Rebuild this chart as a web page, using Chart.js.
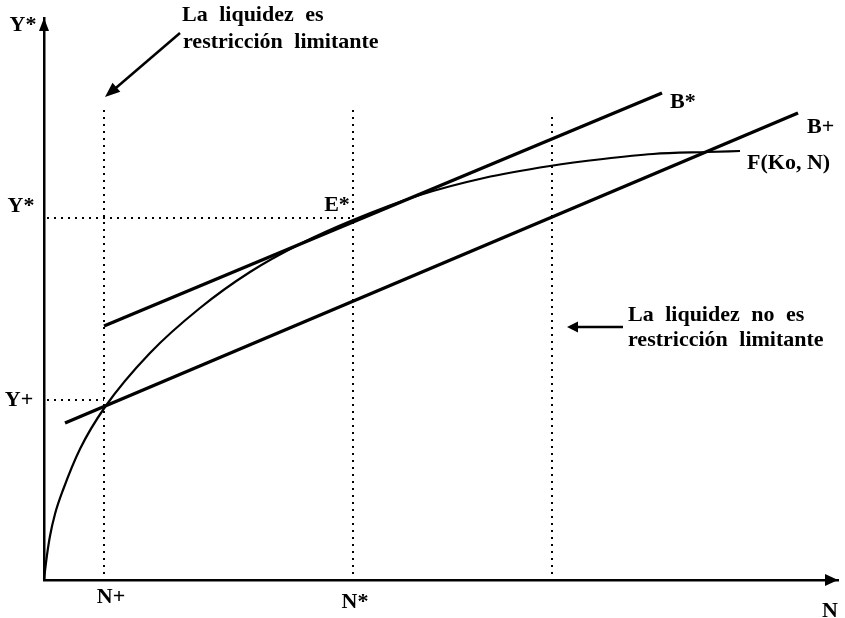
<!DOCTYPE html>
<html>
<head>
<meta charset="utf-8">
<script src="https://cdn.jsdelivr.net/npm/chart.js@4.4.1/dist/chart.umd.min.js"></script>
<style>
  body { margin: 0; background: #fff; }
</style>
</head>
<body>
<canvas id="liquidez-chart" width="845" height="618"></canvas>
<script>
// F(Ko, N)
const curveN = [0, 1, 3, 6, 11, 19, 36, 61, 106, 156, 206, 256, 309, 376, 440, 506, 559, 609, 663, 696];
const curveY = [0, 9, 25, 44, 66, 90, 131, 173, 227, 272, 308, 336, 360, 385, 402, 414, 421, 426, 428, 429];

// rectas B* y B+
const bStarN = [60, 618];
const bStarY = [254, 487];
const bPlusN = [21, 754];
const bPlusY = [157, 467];

// niveles marcados: N+, N*, y la tercera vertical
const guideN = [60, 309, 508];
const guideTop = [470, 472, 468];
// Y+ y Y*
const guideY = [180, 362];

const axisMaxN = 794;
const axisMaxY = 562;

const toPoints = (xs, ys) => xs.map((x, i) => ({ x: x, y: ys[i] }));

const solid = (label, pts, width) => ({
  label: label,
  data: pts,
  borderColor: "#000",
  borderWidth: width,
  pointRadius: 0,
  fill: false,
});

const dotted = (label, pts) => ({
  label: label,
  data: pts,
  borderColor: "#000",
  borderWidth: 2,
  borderDash: [2, 5],
  pointRadius: 0,
  fill: false,
});

const datasets = [
  Object.assign(solid("F(Ko, N)", toPoints(curveN, curveY), 2.2), {
    cubicInterpolationMode: "monotone",
  }),
  solid("B*", toPoints(bStarN, bStarY), 3.4),
  solid("B+", toPoints(bPlusN, bPlusY), 3.4),
];

guideN.forEach((n, i) => {
  datasets.push(dotted("vN" + i, [{ x: n, y: 6 }, { x: n, y: guideTop[i] }]));
});
datasets.push(dotted("Y+", [{ x: 3, y: guideY[0] }, { x: guideN[0], y: guideY[0] }]));
datasets.push(dotted("Y*", [{ x: 3, y: guideY[1] }, { x: guideN[1], y: guideY[1] }]));

function arrowHead(ctx, x, y, angle, len, half) {
  ctx.save();
  ctx.translate(x, y);
  ctx.rotate(angle);
  ctx.beginPath();
  ctx.moveTo(0, 0);
  ctx.lineTo(-len, -half);
  ctx.lineTo(-len, half);
  ctx.closePath();
  ctx.fill();
  ctx.restore();
}

const labelsPlugin = {
  id: "etiquetas",
  afterDraw(chart) {
    const ctx = chart.ctx;
    const px = (v) => chart.scales.x.getPixelForValue(v);
    const py = (v) => chart.scales.y.getPixelForValue(v);
    ctx.save();
    ctx.fillStyle = "#000";
    ctx.strokeStyle = "#000";

    // puntas de los ejes
    arrowHead(ctx, px(0), py(axisMaxY), -Math.PI / 2, 13, 5);
    arrowHead(ctx, px(axisMaxN), py(0), 0, 13, 6);

    // flecha superior
    ctx.lineWidth = 2.5;
    ctx.beginPath();
    ctx.moveTo(px(136), py(547));
    ctx.lineTo(px(66), py(487));
    ctx.stroke();
    arrowHead(ctx, px(61), py(483), Math.atan2(py(483) - py(547), px(61) - px(136)), 15, 6);

    // flecha derecha
    ctx.beginPath();
    ctx.moveTo(px(579), py(253));
    ctx.lineTo(px(530), py(253));
    ctx.stroke();
    arrowHead(ctx, px(523), py(253), Math.PI, 11, 5.5);

    ctx.font = "bold 22px 'Liberation Serif'";
    ctx.textBaseline = "middle";
    ctx.textAlign = "center";
    ctx.fillText("Y*", px(-21), py(555));
    ctx.fillText("Y*", px(-23), py(374));
    ctx.fillText("Y+", px(-25), py(180));
    ctx.fillText("N+", px(67), py(-17));
    ctx.fillText("N*", px(311), py(-22));
    ctx.fillText("N", px(786), py(-31));
    ctx.fillText("E*", px(293), py(375));

    ctx.textAlign = "left";
    ctx.fillText("B*", px(626), py(478));
    ctx.fillText("B+", px(763), py(453));
    ctx.fillText("F(Ko, N)", px(703), py(417));

    ctx.wordSpacing = "6px";
    ctx.fillText("La liquidez es", px(138), py(565));
    ctx.fillText("restricción limitante", px(139), py(538));
    ctx.fillText("La liquidez no es", px(584), py(265));
    ctx.fillText("restricción limitante", px(584), py(240));
    ctx.restore();
  },
};

new Chart(document.getElementById("liquidez-chart"), {
  type: "line",
  data: { datasets: datasets },
  options: {
    responsive: false,
    animation: false,
    layout: { padding: { left: 44, right: 7, top: 18, bottom: 38 } },
    plugins: {
      legend: { display: false },
      tooltip: { enabled: false },
    },
    scales: {
      x: {
        type: "linear",
        min: 0,
        max: axisMaxN,
        ticks: { display: false },
        grid: { display: false, drawTicks: false },
        border: { display: true, color: "#000", width: 2.5 },
      },
      y: {
        type: "linear",
        min: 0,
        max: axisMaxY,
        ticks: { display: false },
        grid: { display: false, drawTicks: false },
        border: { display: true, color: "#000", width: 2.5 },
      },
    },
  },
  plugins: [labelsPlugin],
});
</script>
</body>
</html>
